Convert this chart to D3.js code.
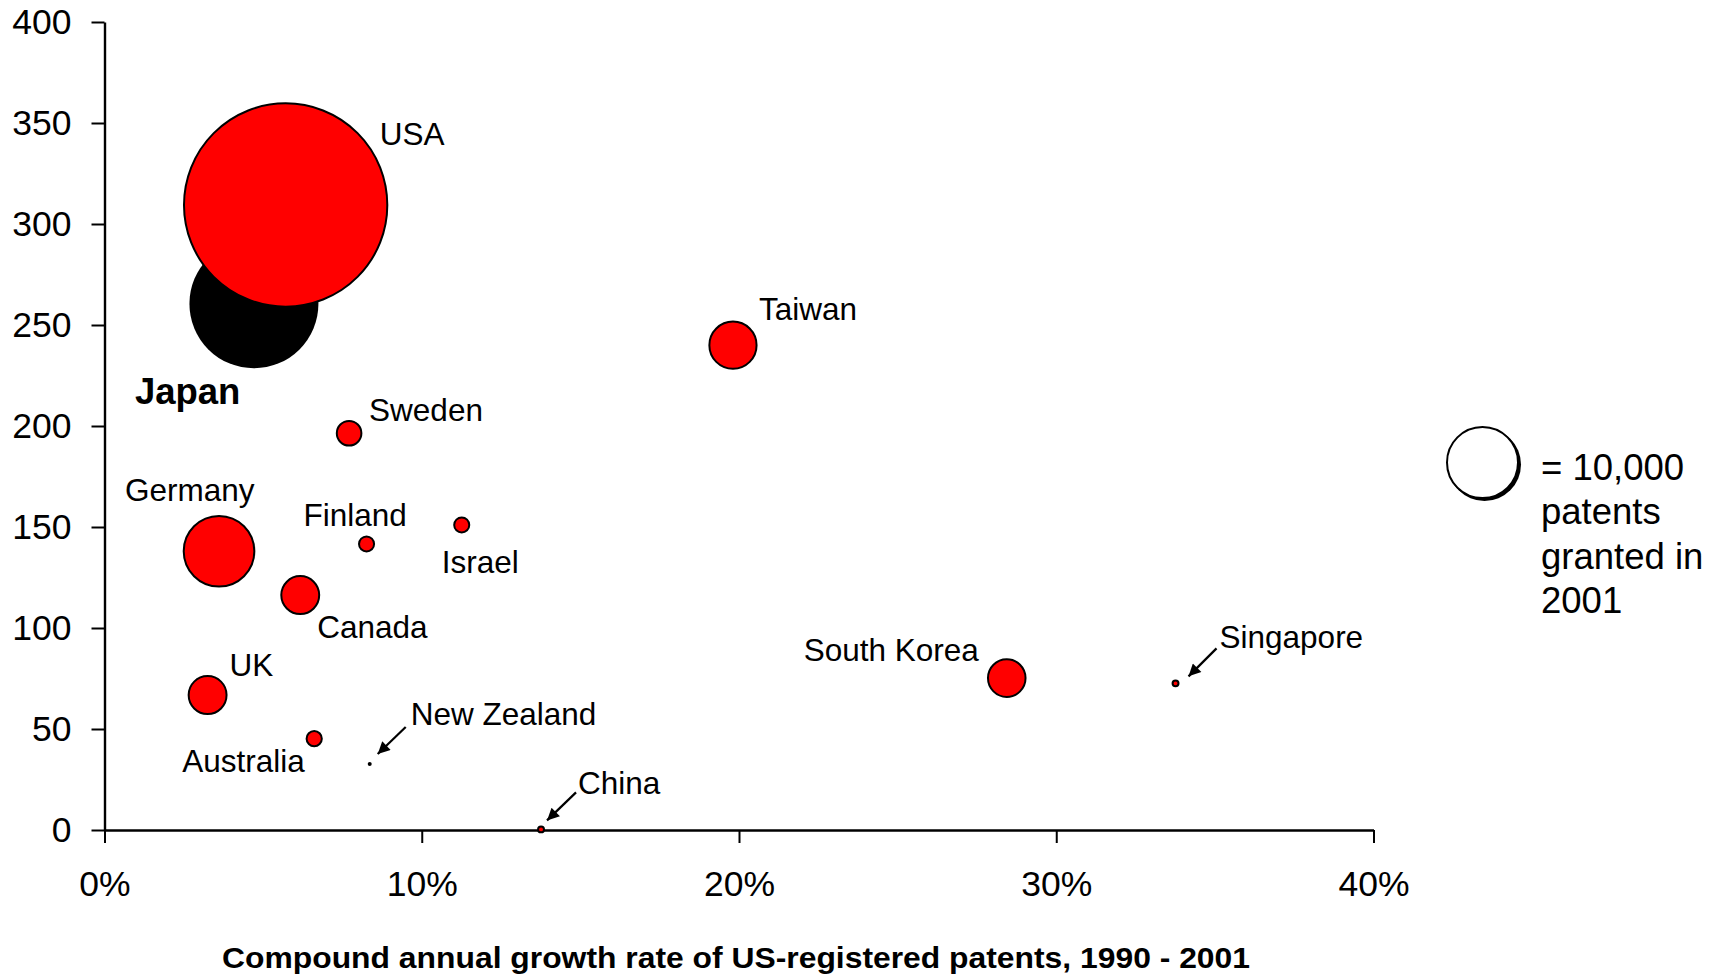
<!DOCTYPE html>
<html>
<head>
<meta charset="utf-8">
<script src="https://cdn.jsdelivr.net/npm/d3@7"></script>
<style>
  body { margin: 0; background: #fff; }
  text { font-family: "Liberation Sans", Arial, Helvetica, sans-serif; fill: #000; }
</style>
</head>
<body>
<svg id="chart" width="1723" height="977"></svg>
<script>
// Country bubbles: growth of US-registered patents vs. level, sized by 2001 grants
const countries   = ["Japan", "USA", "Germany", "Taiwan", "Canada", "UK", "South Korea", "Sweden", "Australia", "Finland", "Israel", "China", "Singapore", "New Zealand"];
const growthRate  = [4.71, 5.71, 3.61, 19.81, 6.17, 3.25, 28.44, 7.71, 6.61, 8.26, 11.26, 13.76, 33.76, 8.36];   // CAGR 1990-2001, %
const yValues     = [260.5, 309.4, 138.0, 240.0, 116.3, 66.8, 75.2, 196.4, 45.2, 141.6, 151.0, 0.3, 72.6, 32.7];
const patents2001 = [33000, 82000, 9900, 4420, 2850, 2850, 2800, 1200, 460, 450, 450, 70, 70, 8];
const fills       = ["#000", "#ff0000", "#ff0000", "#ff0000", "#ff0000", "#ff0000", "#ff0000", "#ff0000", "#ff0000", "#ff0000", "#ff0000", "#ff0000", "#ff0000", "#ff0000"];

const xTicks = [0, 10, 20, 30, 40];
const yTicks = [0, 50, 100, 150, 200, 250, 300, 350, 400];
const xTitle = "Compound annual growth rate of US-registered patents, 1990 - 2001";
const legendValue = 10000;
const legendLines = ["= 10,000", "patents", "granted in", "2001"];

// Label placement (offset of text start from the bubble centre), plus optional pointer arrows
const labelLayout = {
  "USA":         { dx: 94,   dy: -60 },
  "Japan":       { dx: -119, dy: 100, bold: true, size: 36.5 },
  "Sweden":      { dx: 20,   dy: -12 },
  "Taiwan":      { dx: 26,   dy: -25 },
  "Germany":     { dx: -94,  dy: -50 },
  "Finland":     { dx: -63,  dy: -18 },
  "Israel":      { dx: -20,  dy: 48 },
  "Canada":      { dx: 17,   dy: 43 },
  "UK":          { dx: 22,   dy: -19 },
  "Australia":   { dx: -132, dy: 33 },
  "New Zealand": { dx: 41,   dy: -39, arrow: [36, -37, 8, -10] },
  "China":       { dx: 37,   dy: -35, arrow: [35, -37, 6, -9] },
  "South Korea": { dx: -203, dy: -17 },
  "Singapore":   { dx: 44,   dy: -35, arrow: [41, -35, 13, -7] }
};

const svg = d3.select("#chart");
svg.append("rect").attr("width", 1723).attr("height", 977).attr("fill", "#fff");

const x = d3.scaleLinear().domain([0, 40]).range([104.5, 1373.5]);
const y = d3.scaleLinear().domain([0, 400]).range([830, 22]);
const r = d3.scaleSqrt().domain([0, legendValue]).range([0, 35.5]);

// arrowhead
svg.append("defs").append("marker")
  .attr("id", "arrowhead")
  .attr("viewBox", "0 0 10 10")
  .attr("refX", 10).attr("refY", 5)
  .attr("markerWidth", 7).attr("markerHeight", 5.5)
  .attr("markerUnits", "strokeWidth")
  .attr("orient", "auto")
  .append("path").attr("d", "M0,0 L10,5 L0,10 Z").attr("fill", "#000");

// axes
const yAxis = d3.axisLeft(y).tickValues(yTicks).tickSize(13).tickSizeOuter(0).tickPadding(20);
const xAxis = d3.axisBottom(x).tickValues(xTicks).tickFormat(d => d + "%").tickSize(13).tickSizeOuter(0).tickPadding(28);

const gy = svg.append("g").attr("transform", `translate(${x(0)},0)`).call(yAxis);
const gx = svg.append("g").attr("transform", `translate(0,${y(0)})`).call(xAxis);
[gx, gy].forEach(g => {
  g.select(".domain").attr("stroke", "#000").attr("stroke-width", 2.4);
  g.selectAll(".tick line").attr("stroke", "#000").attr("stroke-width", 2);
  g.selectAll(".tick text").attr("font-size", 35.5).attr("fill", "#000")
    .attr("font-family", '"Liberation Sans", Arial, sans-serif');
});

svg.append("text")
  .attr("x", 736).attr("y", 968)
  .attr("text-anchor", "middle")
  .attr("font-size", 29).attr("font-weight", "bold")
  .attr("textLength", 1028).attr("lengthAdjust", "spacingAndGlyphs")
  .text(xTitle);

// bubbles
const data = countries.map((c, i) => ({
  name: c, gx: growthRate[i], gy: yValues[i], n: patents2001[i], fill: fills[i]
}));

const bubbles = svg.append("g");
bubbles.selectAll("circle").data(data).join("circle")
  .attr("cx", d => x(d.gx))
  .attr("cy", d => y(d.gy))
  .attr("r", d => r(d.n))
  .attr("fill", d => d.fill)
  .attr("stroke", d => d.name === "Japan" ? "none" : "#000")
  .attr("stroke-width", 2);

// labels and pointers
const labels = svg.append("g");
data.forEach(d => {
  const L = labelLayout[d.name];
  const cx = x(d.gx), cy = y(d.gy);
  labels.append("text")
    .attr("x", cx + L.dx).attr("y", cy + L.dy)
    .attr("font-size", L.size || 31.5)
    .attr("font-weight", L.bold ? "bold" : "normal")
    .text(d.name);
  if (L.arrow) {
    labels.append("line")
      .attr("x1", cx + L.arrow[0]).attr("y1", cy + L.arrow[1])
      .attr("x2", cx + L.arrow[2]).attr("y2", cy + L.arrow[3])
      .attr("stroke", "#000").attr("stroke-width", 2.2)
      .attr("marker-end", "url(#arrowhead)");
  }
});

// size key
const key = svg.append("g").attr("transform", "translate(1482.5,462.5)");
key.append("circle").attr("cx", 2).attr("cy", 2).attr("r", r(legendValue) + 1).attr("fill", "#000");
key.append("circle").attr("r", r(legendValue)).attr("fill", "#fff").attr("stroke", "#000").attr("stroke-width", 2);
key.selectAll("text").data(legendLines).join("text")
  .attr("x", 58.5)
  .attr("y", (d, i) => 17.5 + i * 44.4)
  .attr("font-size", 36.5)
  .text(d => d);
</script>
</body>
</html>
